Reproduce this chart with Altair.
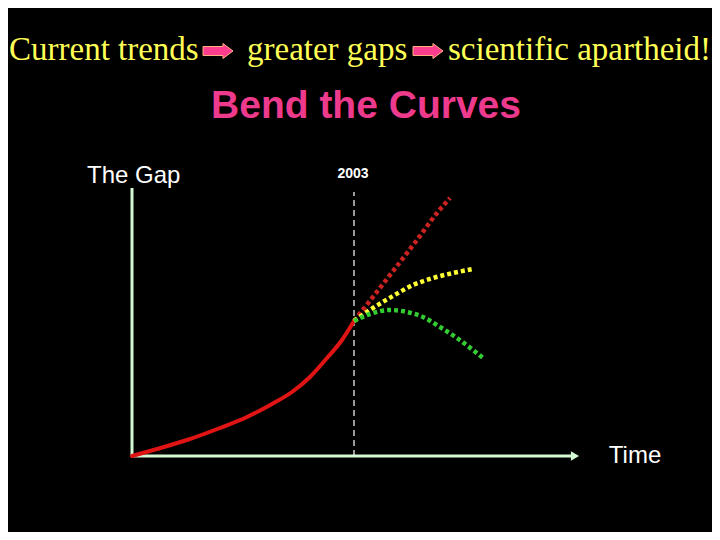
import altair as alt
import pandas as pd

# Coordinates: time / gap units (origin at the axes corner)
hist_t = [0, 25, 55, 88, 115, 140, 160, 178, 195, 210, 222]
hist_g = [0, 7, 16, 28, 39, 52, 64, 79, 98, 116, 135]

high_t = [222, 258, 285, 305, 318]
high_g = [135, 181, 216, 243, 258]

mid_t = [222, 241, 261, 281, 301, 321, 341]
mid_g = [135, 148, 160, 171, 178, 183, 187]

low_t = [222, 238, 258, 275, 291, 308, 325, 341, 351]
low_g = [135, 142, 146, 144, 139, 129, 118, 106, 98]

year_t = 222
year_top = 264
yaxis_top = 268
xaxis_end = 442
arrow_tip_t = 447

title_words = ["Current trends", "greater gaps", "scientific apartheid!"]
title_word_t = [-123, 115, 316]
title_arrow_t = [86, 296]
title_g = 396

X = alt.Scale(domain=[-124, 580])
Y = alt.Scale(domain=[-76, 448])

xe = lambda: alt.X("t:Q", scale=X, axis=None)
ye = lambda: alt.Y("g:Q", scale=Y, axis=None)

hist = alt.Chart(pd.DataFrame({"t": hist_t, "g": hist_g})).mark_line(
    color="#e01414", strokeWidth=4, interpolate="monotone", strokeCap="round"
).encode(x=xe(), y=ye())

def dotted(t, g, color):
    return alt.Chart(pd.DataFrame({"t": t, "g": g})).mark_line(
        color=color, strokeWidth=4.5, strokeDash=[4, 3], interpolate="monotone", strokeCap="butt"
    ).encode(x=xe(), y=ye())

high = dotted(high_t, high_g, "#cc2222")
mid = dotted(mid_t, mid_g, "#ffff33")
low = dotted(low_t, low_g, "#33cc33")

axis_color = "#d4f7d4"
yaxis = alt.Chart(pd.DataFrame({"t": [0], "g": [-1], "g2": [yaxis_top]})).mark_rule(
    color=axis_color, strokeWidth=3
).encode(x=xe(), y=ye(), y2="g2:Q")
xaxis = alt.Chart(pd.DataFrame({"t": [-1], "t2": [xaxis_end], "g": [0]})).mark_rule(
    color=axis_color, strokeWidth=3
).encode(x=xe(), x2="t2:Q", y=ye())
arrowhead = alt.Chart(pd.DataFrame({"t": [arrow_tip_t - 4], "g": [0]})).mark_point(
    shape="triangle-right", filled=True, color=axis_color, size=90, opacity=1
).encode(x=xe(), y=ye())

yearline = alt.Chart(pd.DataFrame({"t": [year_t], "g": [0], "g2": [year_top]})).mark_rule(
    color="white", strokeWidth=1.2, strokeDash=[6, 4]
).encode(x=xe(), y=ye(), y2="g2:Q")

def label(text, t, g, size, color="white", font="Liberation Sans", weight="normal", align="left", baseline="alphabetic"):
    return alt.Chart(pd.DataFrame({"t": [t], "g": [g], "s": [text]})).mark_text(
        font=font, fontSize=size, fontWeight=weight, color=color, align=align, baseline=baseline
    ).encode(x=xe(), y=ye(), text="s:N")

texts = [label(w, t, title_g, 33, color="#ffff55", font="Liberation Serif")
         for w, t in zip(title_words, title_word_t)]
texts.append(label("Bend the Curves", 234, 338, 39, color="#ee3a8c", weight="bold", align="center"))
texts.append(label("The Gap", -45, 273, 24))
texts.append(label("2003", 221, 282, 14, weight="bold", align="center", baseline="middle"))
texts.append(label("Time", 503, 0, 24, align="center", baseline="middle"))

arrow_path = "M -1 -0.3 L 0.33 -0.3 L 0.33 -0.5 L 1 0 L 0.33 0.5 L 0.33 0.3 L -1 0.3 Z"
title_arrows = alt.Chart(pd.DataFrame({"t": title_arrow_t, "g": [405, 405]})).mark_point(
    shape=arrow_path, filled=True, fill="#ff3d8f", stroke="#ffb080", strokeWidth=1, size=900, opacity=1
).encode(x=xe(), y=ye())

chart = alt.layer(
    yaxis, xaxis, arrowhead, yearline, hist, high, mid, low, title_arrows, *texts
).properties(
    width=704, height=524, background="black", padding=0,
    autosize=alt.AutoSizeParams(type="none"),
).configure_view(stroke=None)

chart.save("out.html", embed_options={"renderer": "svg", "actions": False})
